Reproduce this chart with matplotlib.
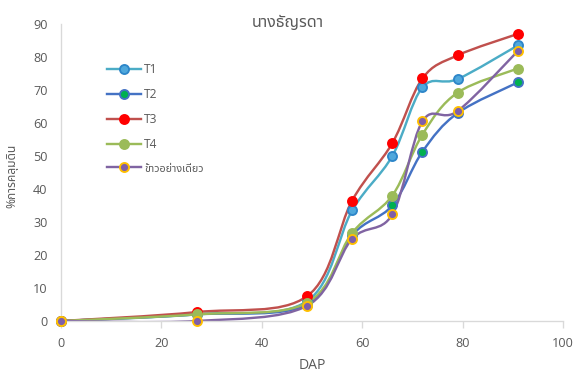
import matplotlib
matplotlib.use("Agg")
import matplotlib.pyplot as plt
from matplotlib.path import Path
from matplotlib.patches import PathPatch
from matplotlib.lines import Line2D

plt.rcParams['font.family'] = ['Open Sans', 'Noto Sans Thai', 'DejaVu Sans']

# วันหลังปลูก (DAP) และ % การคลุมดิน ของแต่ละกรรมวิธี
dap = [0, 27, 49, 58, 66, 72, 79, 91]
t1 = [0, 2.0, 6.0, 33.5, 50.0, 70.8, 73.3, 83.5]
t2 = [0, 2.0, 5.0, 26.0, 35.0, 51.3, 63.0, 72.3]
t3 = [0, 2.7, 7.5, 36.5, 53.9, 73.5, 80.5, 87.0]
t4 = [0, 2.0, 5.5, 26.7, 38.0, 56.5, 69.2, 76.5]
rice = [0, 0, 4.6, 24.9, 32.3, 60.5, 63.6, 81.8]

names = ['T1', 'T2', 'T3', 'T4', 'ข้าวอย่างเดียว']
series = [t1, t2, t3, t4, rice]
line_colors = ['#4BACC6', '#4472C4', '#C0504D', '#9BBB59', '#8064A2']
face_colors = ['#4FA8DC', '#00B050', '#FF0000', '#9BBB59', '#7F5FA8']
edge_colors = ['#2E86C9', '#4472C4', '#FF0000', '#9BBB59', '#FFC000']
grey = '#595959'


def smooth_path(xs, ys, k=1 / 6):
    # เส้นโค้งแบบ Bezier ผ่านทุกจุด (คล้ายเส้นเรียบของ Excel)
    pts = list(zip(xs, ys))
    n = len(pts)
    verts = [pts[0]]
    codes = [Path.MOVETO]
    for i in range(n - 1):
        p0 = pts[max(i - 1, 0)]
        p1 = pts[i]
        p2 = pts[i + 1]
        p3 = pts[min(i + 2, n - 1)]
        c1 = (p1[0] + (p2[0] - p0[0]) * k, p1[1] + (p2[1] - p0[1]) * k)
        c2 = (p2[0] - (p3[0] - p1[0]) * k, p2[1] - (p3[1] - p1[1]) * k)
        verts += [c1, c2, p2]
        codes += [Path.CURVE4] * 3
    return Path(verts, codes)


fig = plt.figure(figsize=(6, 3.896), dpi=96)
ax = fig.add_axes([0.1059, 0.1417, 0.8715, 0.7941])

handles = []
for ys, name, lc, fc, ec in zip(series, names, line_colors, face_colors, edge_colors):
    ax.add_patch(PathPatch(smooth_path(dap, ys), facecolor='none', edgecolor=lc,
                           lw=1.8, capstyle='round', joinstyle='round'))
    ax.plot(dap, ys, ls='none', marker='o', ms=6.8, mfc=fc, mec=ec, mew=1.4,
            clip_on=False, zorder=3)
    handles.append(Line2D([], [], color=lc, lw=1.8, marker='o', ms=6.8,
                          mfc=fc, mec=ec, mew=1.4, label=name))

ax.set_xlim(0, 100)
ax.set_ylim(0, 90)
ax.set_xticks(range(0, 101, 20))
ax.set_yticks(range(0, 91, 10))

for s in ['top', 'right']:
    ax.spines[s].set_visible(False)
for s in ['left', 'bottom']:
    ax.spines[s].set_color('#D9D9D9')
    ax.spines[s].set_linewidth(1.0)
ax.tick_params(axis='y', length=0, pad=10, labelsize=9.5, labelcolor=grey)
ax.tick_params(axis='x', length=5, width=1, color='#D9D9D9', pad=7,
               labelsize=9.5, labelcolor=grey, direction='out')

fig.text(0.5, 0.938, 'นางธัญรดา', color=grey, fontsize=12, ha='center', va='center')
ax.set_xlabel('DAP', color=grey, fontsize=10.5, labelpad=6)
ax.set_ylabel('%การคลุมดิน', color=grey, fontsize=9)
ax.yaxis.set_label_coords(-0.084, 0.49)

leg = ax.legend(handles=handles, loc='upper left', bbox_to_anchor=(0.0916, 0.868),
                frameon=False, fontsize=9, handlelength=2.8, labelspacing=1.0,
                handletextpad=0.3, borderaxespad=0, borderpad=0)
for t in leg.get_texts():
    t.set_color(grey)
leg.get_texts()[-1].set_fontsize(8)

fig.savefig('out.png', dpi=96)
